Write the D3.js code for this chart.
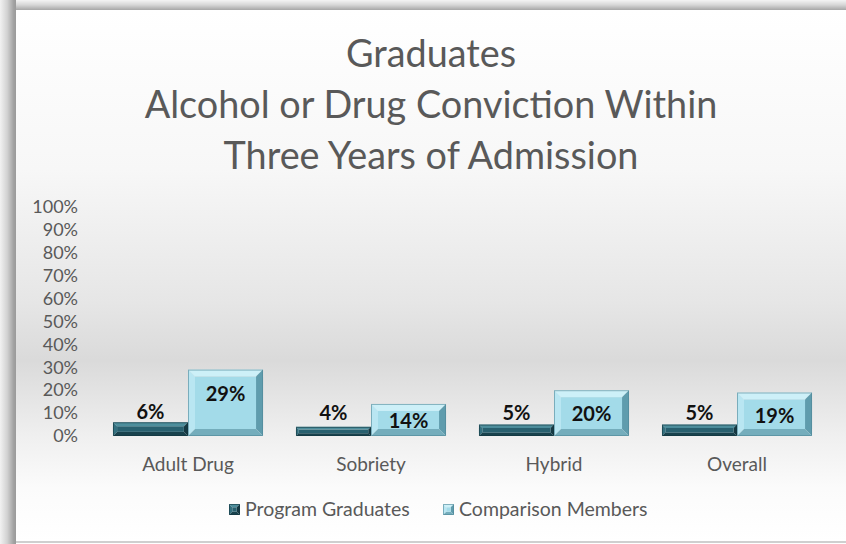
<!DOCTYPE html>
<html>
<head>
<meta charset="utf-8">
<script src="https://cdn.jsdelivr.net/npm/d3@7"></script>
<style>
  html, body { margin: 0; padding: 0; background: #ffffff; }
  svg { display: block; }
  text { font-family: Lato, "Open Sans", sans-serif; }
</style>
</head>
<body>
<svg id="chart" width="846" height="544"></svg>
<script>
// Chart data
const categories = ["Adult Drug", "Sobriety", "Hybrid", "Overall"];
const seriesNames = ["Program Graduates", "Comparison Members"];
const programGraduates = [0.06, 0.04, 0.05, 0.05];
const comparisonMembers = [0.29, 0.14, 0.20, 0.19];
const yTicks = [0, 0.1, 0.2, 0.3, 0.4, 0.5, 0.6, 0.7, 0.8, 0.9, 1.0];
const titleLines = ["Graduates", "Alcohol or Drug Conviction Within", "Three Years of Admission"];

const seriesValues = [programGraduates, comparisonMembers];

// Bevelled face colours: face, top, left, right, bottom, outline
const palettes = [
  { face: "#28606f", top: "#4d8e9c", left: "#33707f", right: "#153943", bottom: "#18424d", edge: "#123640" },
  { face: "#a3dbe9", top: "#cdf0f8", left: "#b9e6f2", right: "#5f9cad", bottom: "#74adbc", edge: "#4f8797" }
];

const W = 846, H = 544;
const svg = d3.select("#chart");
const defs = svg.append("defs");

// Panel background: light at top, grey band near the baseline, light at bottom
const bg = defs.append("linearGradient").attr("id", "bgGrad")
  .attr("x1", 0).attr("y1", 0).attr("x2", 0).attr("y2", 1);
[[0, "#ffffff"], [0.3, "#f7f7f7"], [0.55, "#e6e6e6"], [0.66, "#dadada"], [0.8, "#efefef"], [0.9, "#fbfbfb"], [1, "#ffffff"]]
  .forEach(([o, c]) => bg.append("stop").attr("offset", o).attr("stop-color", c));

// Frame shadow on left and top edges
const shL = defs.append("linearGradient").attr("id", "shadowL")
  .attr("x1", 0).attr("y1", 0).attr("x2", 1).attr("y2", 0);
[[0, "#f2f2f2"], [0.45, "#d2d2d2"], [0.85, "#a2a2a2"], [1, "#9a9a9a"]]
  .forEach(([o, c]) => shL.append("stop").attr("offset", o).attr("stop-color", c));
const shT = defs.append("linearGradient").attr("id", "shadowT")
  .attr("x1", 0).attr("y1", 0).attr("x2", 0).attr("y2", 1);
[[0, "#f4f4f4"], [0.5, "#d6d6d6"], [1, "#a6a6a6"]]
  .forEach(([o, c]) => shT.append("stop").attr("offset", o).attr("stop-color", c));

const panel = { x: 16, y: 10, w: W - 16, h: 531 };
svg.append("rect").attr("x", 0).attr("y", 0).attr("width", W).attr("height", H).attr("fill", "#ffffff");
svg.append("rect").attr("x", 0).attr("y", 0).attr("width", panel.x).attr("height", H).attr("fill", "url(#shadowL)");
svg.append("rect").attr("x", panel.x).attr("y", 0).attr("width", W - panel.x).attr("height", panel.y).attr("fill", "url(#shadowT)");
svg.append("rect").attr("x", panel.x).attr("y", panel.y).attr("width", panel.w).attr("height", panel.h).attr("fill", "url(#bgGrad)");
svg.append("rect").attr("x", panel.x).attr("y", panel.y + panel.h).attr("width", panel.w).attr("height", 2).attr("fill", "#cfcfcf");

// Title
const title = svg.append("text").attr("text-anchor", "middle").attr("fill", "#595959");
const titleSize = (() => {
  const probe = svg.append("text").style("font-size", "32px").text(titleLines[1]);
  const w = probe.node().getComputedTextLength();
  probe.remove();
  return 32 * 573 / w;
})();
title.style("font-size", titleSize + "px");
[67, 118, 169].forEach((b, i) => {
  title.append("tspan").attr("x", 431).attr("y", b).text(titleLines[i]);
});

// Scales
const x0 = d3.scaleBand().domain(categories).range([96.5, 828.5]).paddingInner(0.18).paddingOuter(0.09);
const x1 = d3.scaleBand().domain(seriesNames).range([0, x0.bandwidth()]);
const y = d3.scaleLinear().domain([0, 1]).range([436, 207]);

// Y axis (labels only)
const yAxis = d3.axisLeft(y).tickValues(yTicks).tickFormat(d3.format(".0%")).tickSize(0).tickPadding(0);
const gy = svg.append("g").attr("transform", "translate(78,0)").call(yAxis);
gy.select(".domain").remove();
gy.selectAll("text").attr("fill", "#595959").style("font-size", "18px").style("font-family", "Lato, sans-serif");

// X axis (labels only)
const xAxis = d3.axisBottom(x0).tickSize(0).tickPadding(0);
const gx = svg.append("g").attr("transform", "translate(0,457)").call(xAxis);
gx.select(".domain").remove();
gx.selectAll("text").attr("fill", "#595959").style("font-size", "19px").style("font-family", "Lato, sans-serif");

// Draw a bevelled box
function bevel(g, x, yTop, w, h, pal, bMax) {
  const b = Math.max(1.5, Math.min(bMax, h * 0.3, w * 0.3));
  const x2 = x + w, y2 = yTop + h;
  const poly = (pts, fill) => g.append("polygon").attr("points", pts.map(p => p.join(",")).join(" ")).attr("fill", fill);
  poly([[x, yTop], [x2, yTop], [x2 - b, yTop + b], [x + b, yTop + b]], pal.top);
  poly([[x, yTop], [x + b, yTop + b], [x + b, y2 - b], [x, y2]], pal.left);
  poly([[x2, yTop], [x2, y2], [x2 - b, y2 - b], [x2 - b, yTop + b]], pal.right);
  poly([[x, y2], [x + b, y2 - b], [x2 - b, y2 - b], [x2, y2]], pal.bottom);
  g.append("rect").attr("x", x + b).attr("y", yTop + b).attr("width", w - 2 * b).attr("height", h - 2 * b).attr("fill", pal.face);
  g.append("rect").attr("x", x + 0.5).attr("y", yTop + 0.5).attr("width", w - 1).attr("height", h - 1)
    .attr("fill", "none").attr("stroke", pal.edge).attr("stroke-width", 1).attr("stroke-opacity", 0.6);
}

// Bars
const barsG = svg.append("g");
categories.forEach((cat, ci) => {
  seriesNames.forEach((s, si) => {
    const v = seriesValues[si][ci];
    const bx = x0(cat) + x1(s);
    const top = y(v);
    const h = y(0) - top;
    bevel(barsG.append("g"), bx, top, x1.bandwidth(), h, palettes[si], 7);
  });
});

// Data labels
const labelsG = svg.append("g").attr("text-anchor", "middle").attr("fill", "#111111")
  .style("font-size", "20px").style("font-weight", "bold");
categories.forEach((cat, ci) => {
  seriesNames.forEach((s, si) => {
    const v = seriesValues[si][ci];
    const cx = x0(cat) + x1(s) + x1.bandwidth() / 2;
    const top = y(v);
    const base = si === 0 ? Math.min(top - 3, 420) : Math.min(top + 31, y(0) - 8);
    labelsG.append("text").attr("x", cx).attr("y", base).text(d3.format(".0%")(v));
  });
});

// Legend
const legendItems = [
  { name: seriesNames[0], mx: 229, tx: 245 },
  { name: seriesNames[1], mx: 443, tx: 459 }
];
const legendG = svg.append("g");
legendItems.forEach((item, i) => {
  bevel(legendG.append("g"), item.mx, 504, 11, 11, palettes[i], 4);
  legendG.append("text").attr("x", item.tx).attr("y", 516).attr("fill", "#595959")
    .style("font-size", "19.5px").text(item.name);
});
</script>
</body>
</html>
